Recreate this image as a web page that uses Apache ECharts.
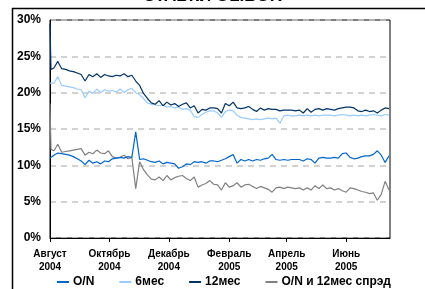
<!DOCTYPE html>
<html><head><meta charset="utf-8">
<script src="https://cdn.jsdelivr.net/npm/echarts@6/dist/echarts.min.js"></script>
<style>html,body{margin:0;padding:0;background:#fff}#c{width:425px;height:289px}</style>
</head><body><div id="c"></div>
<script>
// days since 1 Aug 2004
const days = [0,1,4,8,12,16,20,24,28,32,
36,40,44,48,52,56,60,64,68,72,
76,80,84,88,92,96,100,104,108,112,
116,120,124,128,132,136,140,144,148,152,
156,160,164,168,172,176,180,184,188,192,
196,200,204,208,212,216,220,224,228,232,
236,240,244,248,252,256,260,264,268,272,
276,280,284,288,292,296,300,304,308,312,
316,320,324,328,332,336,340,344,348];
const rate12m = [29.5,23.2,23.4,24.3,23.3,23.2,23.0,22.9,22.7,22.5,
21.6,22.5,22.2,22.6,22.1,22.5,22.3,22.2,22.4,22.3,
22.6,22.2,22.4,21.6,21.0,19.9,19.2,18.6,18.4,18.9,
18.2,18.7,18.3,18.5,18.1,18.4,18.6,17.9,18.2,17.2,
17.7,17.6,17.9,17.9,17.8,17.2,18.5,18.2,18.7,17.9,
17.8,17.9,18.1,17.7,17.4,17.9,17.6,17.8,17.7,17.7,
17.5,17.6,17.6,17.6,17.5,17.6,17.2,17.8,17.3,17.7,
17.8,17.6,17.8,17.7,17.6,17.8,17.9,18.0,18.0,17.9,
17.5,17.4,17.6,17.4,17.5,17.2,17.6,17.9,17.8];
const rate6m = [21.3,21.2,21.3,22.2,21.0,20.9,20.8,20.7,20.5,20.4,
19.3,20.2,19.9,20.5,20.0,20.4,20.2,20.3,20.1,20.5,
20.0,20.4,20.6,20.0,19.7,19.2,18.6,18.4,18.3,18.2,
18.3,18.0,18.1,17.9,18.0,17.7,17.8,17.6,16.7,16.6,
17.0,17.3,17.5,17.5,17.2,16.6,17.4,17.6,17.5,16.9,
16.6,16.5,16.4,16.3,16.4,16.3,16.4,16.5,16.4,16.5,
15.8,16.8,16.9,16.8,16.8,16.9,16.8,16.9,16.8,16.9,
16.8,16.9,16.9,16.9,16.8,16.9,17.0,16.9,16.8,16.9,
16.8,16.9,16.8,16.9,17.0,16.9,16.8,17.0,16.9];
const rateON = [11.0,11.2,11.4,11.7,11.6,11.5,11.4,11.2,10.9,10.6,
10.1,10.7,10.3,10.5,10.2,10.6,10.5,10.9,11.0,11.1,
11.0,11.2,11.1,14.6,10.8,10.9,10.7,10.5,10.4,10.6,
10.2,10.4,10.3,10.2,9.6,9.8,10.2,10.1,10.5,10.4,
10.5,10.3,10.6,10.6,10.5,10.7,10.9,11.2,11.5,10.3,
10.8,10.6,10.8,10.6,10.8,10.7,10.9,11.0,11.5,10.8,
10.7,10.8,10.7,10.8,10.8,10.8,10.6,10.9,10.8,10.3,
11.0,11.1,11.0,11.0,11.1,11.0,11.6,11.7,11.1,10.9,
11.0,11.2,11.3,11.3,11.5,12.0,11.4,10.4,11.3];
const spread = [18.5,12.2,12.0,12.9,11.8,11.9,12.0,12.1,12.2,12.3,
11.4,11.8,11.6,12.1,11.7,11.6,12.0,11.2,11.0,11.1,
11.4,10.9,11.1,6.8,10.5,9.4,8.7,8.1,8.0,8.4,
7.9,8.6,8.0,8.3,8.5,8.6,8.2,7.9,8.4,7.0,
7.3,7.5,7.9,7.4,7.3,6.6,7.6,7.0,7.2,7.6,
7.0,7.3,7.4,7.1,6.8,7.1,6.9,6.7,6.3,6.9,
7.0,6.8,7.0,6.9,6.8,6.9,6.6,6.9,6.6,7.2,
6.8,7.3,6.8,6.9,6.6,6.8,6.5,6.3,6.9,6.8,
6.6,6.4,6.3,6.1,6.2,5.2,6.0,7.8,6.6];
const tickDays = [0,61,122,184,243,304];
const tickLabels = ['Август\n2004','Октябрь\n2004','Декабрь\n2004','Февраль\n2005','Апрель\n2005','Июнь\n2005'];
const seriesNames = ['O/N','6мес','12мес','O/N и 12мес спрэд'];
const seriesColors = ['#0066CC','#99CCFF','#003366','#808080'];
const title = 'СТАВКИ OLIBOR';

const F = 'Liberation Sans, Arial, sans-serif';
const zip = arr => days.map((d,i)=>[d,arr[i]]);
const values = [rateON, rate6m, rate12m, spread];
const chart = echarts.init(document.getElementById('c'), null, {renderer:'canvas'});
chart.setOption({
  animation:false,
  backgroundColor:'#fff',
  title:{text:title,left:'center',top:-12,padding:0,textStyle:{fontFamily:F,fontWeight:'bold',fontSize:17,color:'#000'}},
  graphic:[
    {type:'line',shape:{x1:12,y1:8.5,x2:425,y2:8.5},style:{stroke:'#000',lineWidth:1.5},silent:true},
    {type:'line',shape:{x1:12.5,y1:8,x2:12.5,y2:289},style:{stroke:'#000',lineWidth:1.5},silent:true}
  ],
  grid:{left:50,right:35,top:20,bottom:51,show:true,borderColor:'#000',borderWidth:1,backgroundColor:'transparent'},
  legend:{data:seriesNames,left:57,top:276,padding:0,itemGap:25,itemWidth:12,itemHeight:2,icon:'rect',
    textStyle:{fontFamily:F,fontWeight:'bold',fontSize:12,color:'#000',padding:[0,0,0,-1]}},
  xAxis:{type:'value',min:0,max:349,
    axisLine:{show:true,lineStyle:{color:'#000',width:1}},
    splitLine:{show:false},
    axisTick:{show:true,customValues:tickDays,length:4,lineStyle:{color:'#000'}},
    axisLabel:{customValues:tickDays,margin:9,fontFamily:F,fontWeight:'bold',fontSize:10,lineHeight:13.5,color:'#000',
      formatter:v=>tickLabels[tickDays.indexOf(v)]}},
  yAxis:{type:'value',min:0,max:30,interval:5,
    axisLine:{show:true,lineStyle:{color:'#000'}},
    axisTick:{show:false},
    splitLine:{show:true,lineStyle:{color:'#c4c4c4',width:1.5,type:[6,5]}},
    axisLabel:{margin:9,fontFamily:F,fontWeight:'bold',fontSize:12,color:'#000',formatter:'{value}%'}},
  series:seriesNames.map((n,i)=>({name:n,type:'line',data:zip(values[i]),showSymbol:false,symbol:'none',
    lineStyle:{color:seriesColors[i],width:1.2},itemStyle:{color:seriesColors[i]},z:[3,2,4,1][i]}))
});
</script></body></html>
